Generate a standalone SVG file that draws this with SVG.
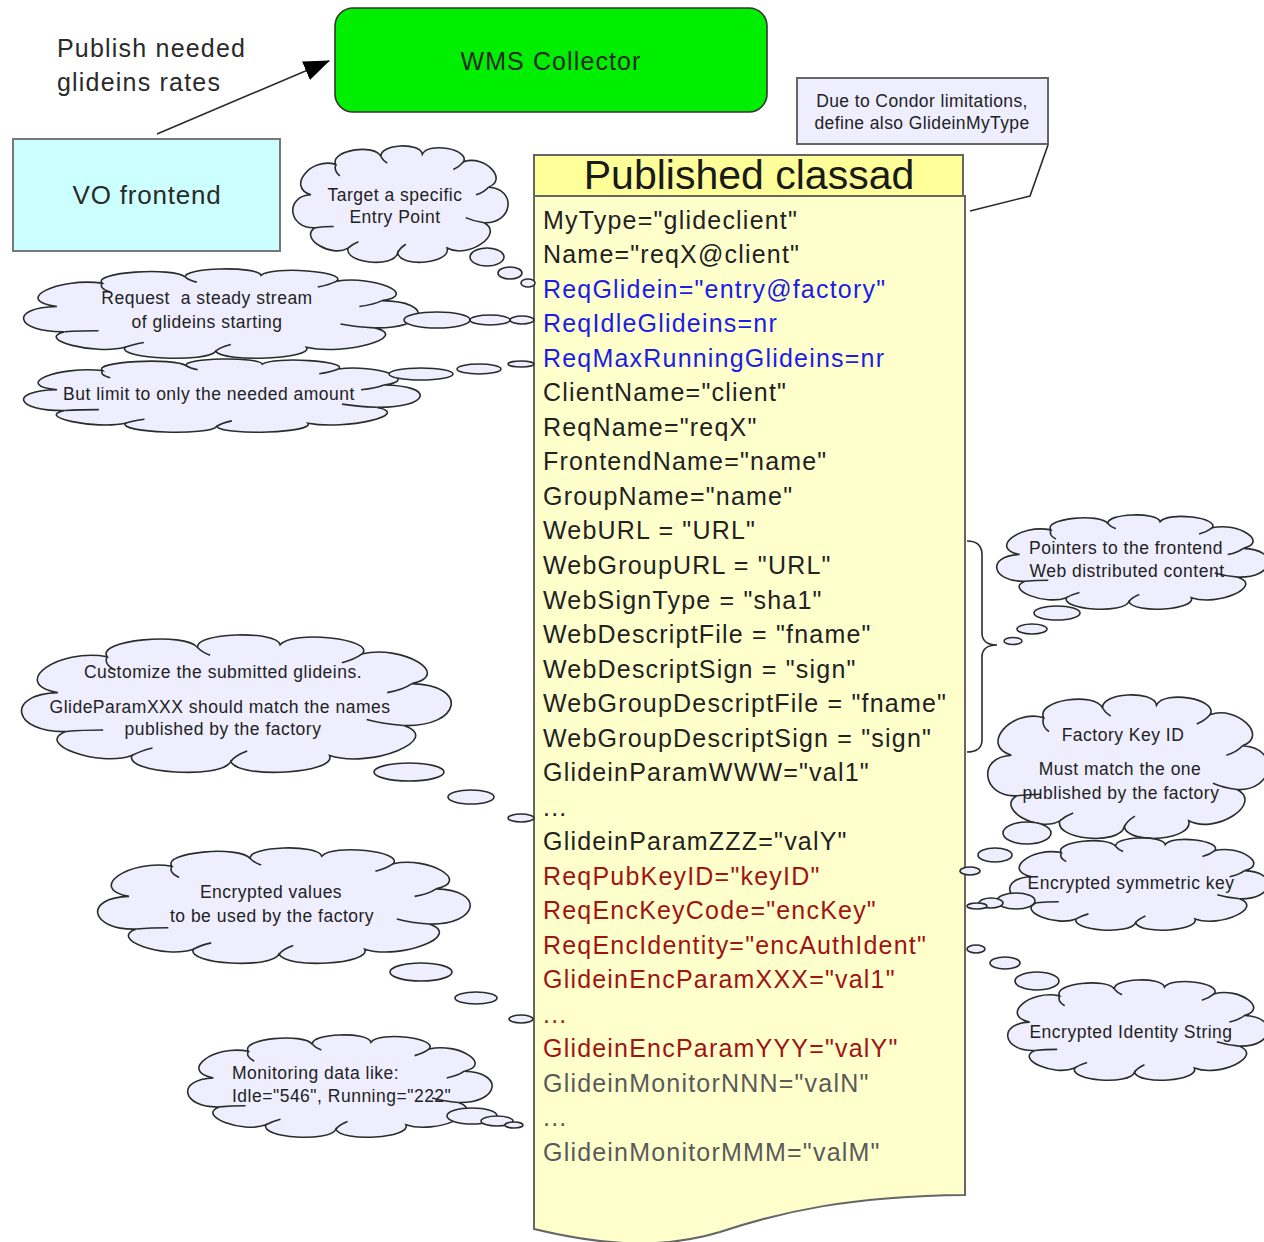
<svg xmlns="http://www.w3.org/2000/svg" xmlns:xlink="http://www.w3.org/1999/xlink" width="1264" height="1242" viewBox="0 0 1264 1242">
  <style>
    text { font-family: "Liberation Sans", Arial, Helvetica, sans-serif; }
    .big { font-size: 25px; fill: #2a2a2a; letter-spacing: 1.1px; }
    .title { font-size: 41px; fill: #1a1a1a; text-anchor: middle; }
    .attr { font-size: 25px; letter-spacing: 1.2px; }
    .k { fill: #222222; }
    .b { fill: #1c1ce6; }
    .r { fill: #a01414; }
    .g { fill: #5a5a5a; }
    .note { font-size: 17.5px; fill: #222; letter-spacing: 0.4px; text-anchor: middle; }
    .ct { font-size: 17.5px; fill: #222; letter-spacing: 0.5px; text-anchor: middle; }
    .ctl { font-size: 17.5px; fill: #222; letter-spacing: 0.5px; }
    .cloud-body { fill: #eeeeff; stroke: #2b2b2b; stroke-width: 1.6; vector-effect: non-scaling-stroke; }
    .cloud-tick { fill: none; stroke: #2b2b2b; stroke-width: 1.6; vector-effect: non-scaling-stroke; }
    .bubble { fill: #eeeeff; stroke: #2b2b2b; stroke-width: 1.6; }
    .line { fill: none; stroke: #2b2b2b; stroke-width: 1.6; }
  </style>
  <defs>
    <marker id="arrowhead" markerUnits="userSpaceOnUse" markerWidth="26" markerHeight="20" viewBox="0 0 26 20" refX="25" refY="10" orient="auto">
      <path d="M0,0 L26,10 L0,20 Z" fill="#000"/>
    </marker>
    <!-- generic thought cloud, extents x -0.7..103.5, y 3.5..95 -->
    <g id="cloud">
      <path class="cloud-body" d="M8,42 C-4,36 8,12 20,18 C17,7 39,1 42,12 C41,2 61,0 62,10 C65,0 85,6 82,16 C92,10 104,30 94,36 C108,37 106,65 92,64 C102,73 84,93 74,84 C76,96 52,100 50,88 C48,100 24,96 26,84 C18,92 2,76 10,68 C-3,69 -5,43 8,42 Z"/>
      <path class="cloud-tick" d="M20,18 Q19,23 22,27 M42,12 Q43,15 45,17 M82,16 Q80,20 77,22 M94,36 Q92,40 88,42 M92,64 Q87,63 83,60 M50,88 Q51,84 54,81 M26,84 Q28,81 31,79 M10,68 Q14,67 19,67"/>
    </g>
  </defs>

  <rect width="1264" height="1242" fill="#ffffff"/>

  <!-- WMS Collector -->
  <g id="wms-collector">
    <rect x="335" y="8" width="432" height="104" rx="18" ry="18" fill="#00ee00" stroke="#333" stroke-width="1.6"/>
    <text class="big" x="551" y="70" text-anchor="middle">WMS Collector</text>
  </g>

  <!-- VO frontend -->
  <g id="vo-frontend">
    <rect x="13" y="139" width="267" height="112" fill="#ccffff" stroke="#777" stroke-width="2"/>
    <text class="big" x="147" y="204" text-anchor="middle" style="font-size:26px;letter-spacing:0.8px">VO frontend</text>
  </g>

  <!-- label of the publish arrow -->
  <g id="publish-label">
    <text class="big" x="57" y="57" style="letter-spacing:1.2px">Publish needed</text>
    <text class="big" x="57" y="91" style="letter-spacing:1.2px">glideins rates</text>
  </g>

  <!-- Condor note -->
  <g id="condor-note">
    <rect x="797" y="78" width="251" height="66" fill="#eeeeff" stroke="#666" stroke-width="2"/>
    <text class="note" x="922" y="107">Due to Condor limitations,</text>
    <text class="note" x="922" y="129">define also GlideinMyType</text>
  </g>

  <!-- Published classad -->
  <g id="published-classad">
    <path d="M534,196 L965,196 L965,1195 C850,1196 780,1212 720,1232 C660,1250 600,1245 534,1229 Z" fill="#ffffcc" stroke="#666" stroke-width="2"/>
    <rect x="534" y="155" width="429" height="41" fill="#ffff99" stroke="#666" stroke-width="2"/>
    <text class="title" x="749" y="189">Published classad</text>
    <g class="attr">
      <text class="k" x="543" y="229">MyType="glideclient"</text>
      <text class="k" x="543" y="263">Name="reqX@client"</text>
      <text class="b" x="543" y="298">ReqGlidein="entry@factory"</text>
      <text class="b" x="543" y="332">ReqIdleGlideins=nr</text>
      <text class="b" x="543" y="367">ReqMaxRunningGlideins=nr</text>
      <text class="k" x="543" y="401">ClientName="client"</text>
      <text class="k" x="543" y="436">ReqName="reqX"</text>
      <text class="k" x="543" y="470">FrontendName="name"</text>
      <text class="k" x="543" y="505">GroupName="name"</text>
      <text class="k" x="543" y="539">WebURL = "URL"</text>
      <text class="k" x="543" y="574">WebGroupURL = "URL"</text>
      <text class="k" x="543" y="609">WebSignType = "sha1"</text>
      <text class="k" x="543" y="643">WebDescriptFile = "fname"</text>
      <text class="k" x="543" y="678">WebDescriptSign = "sign"</text>
      <text class="k" x="543" y="712">WebGroupDescriptFile = "fname"</text>
      <text class="k" x="543" y="747">WebGroupDescriptSign = "sign"</text>
      <text class="k" x="543" y="781">GlideinParamWWW="val1"</text>
      <text class="k" x="543" y="816">...</text>
      <text class="k" x="543" y="850">GlideinParamZZZ="valY"</text>
      <text class="r" x="543" y="885">ReqPubKeyID="keyID"</text>
      <text class="r" x="543" y="919">ReqEncKeyCode="encKey"</text>
      <text class="r" x="543" y="954">ReqEncIdentity="encAuthIdent"</text>
      <text class="r" x="543" y="988">GlideinEncParamXXX="val1"</text>
      <text class="r" x="543" y="1023">...</text>
      <text class="r" x="543" y="1057">GlideinEncParamYYY="valY"</text>
      <text class="g" x="543" y="1092">GlideinMonitorNNN="valN"</text>
      <text class="g" x="543" y="1126">...</text>
      <text class="g" x="543" y="1161">GlideinMonitorMMM="valM"</text>
    </g>
  </g>

  <!-- connectors -->
  <g id="connectors">
    <line class="line" x1="157" y1="134" x2="329" y2="61" marker-end="url(#arrowhead)"/>
    <polyline class="line" points="1048,145 1030,196 970,211"/>
    <path class="line" d="M967,541 C976,541 982,545 982,555 L982,633 C982,641 988,645 997,645 C988,645 982,649 982,657 L982,740 C982,748 976,752 967,752"/>
  </g>

  <!-- thought clouds, left side -->
  <g id="cloud-target">
    <use xlink:href="#cloud" transform="translate(293,146) scale(2.063,1.268) translate(0.7,-3.5)"/>
    <ellipse class="bubble" cx="487" cy="257" rx="17" ry="9"/>
    <ellipse class="bubble" cx="510" cy="273" rx="12" ry="6"/>
    <ellipse class="bubble" cx="528" cy="283" rx="7" ry="4"/>
    <text class="ct" x="395" y="201">Target a specific</text>
    <text class="ct" x="395" y="223">Entry Point</text>
  </g>

  <g id="cloud-request">
    <use xlink:href="#cloud" transform="translate(24,269) scale(3.781,0.973) translate(0.7,-3.5)"/>
    <ellipse class="bubble" cx="437" cy="320" rx="33" ry="8"/>
    <ellipse class="bubble" cx="490" cy="320" rx="20" ry="5"/>
    <ellipse class="bubble" cx="522" cy="320" rx="12" ry="4"/>
    <text class="ct" x="207" y="304">Request &#160;a steady stream</text>
    <text class="ct" x="207" y="328">of glideins starting</text>
  </g>

  <g id="cloud-limit">
    <use xlink:href="#cloud" transform="translate(24,359) scale(3.800,0.798) translate(0.7,-3.5)"/>
    <ellipse class="bubble" cx="421" cy="374" rx="32" ry="6"/>
    <ellipse class="bubble" cx="479" cy="369" rx="22" ry="5"/>
    <ellipse class="bubble" cx="521" cy="364" rx="13" ry="3"/>
    <text class="ct" x="209" y="400">But limit to only the needed amount</text>
  </g>

  <g id="cloud-customize">
    <use xlink:href="#cloud" transform="translate(22,635) scale(4.117,1.497) translate(0.7,-3.5)"/>
    <ellipse class="bubble" cx="409" cy="772" rx="35" ry="9"/>
    <ellipse class="bubble" cx="471" cy="797" rx="23" ry="7"/>
    <ellipse class="bubble" cx="521" cy="818" rx="13" ry="4"/>
    <text class="ct" x="223" y="678">Customize the submitted glideins.</text>
    <text class="ct" x="220" y="713">GlideParamXXX should match the names</text>
    <text class="ct" x="223" y="735">published by the factory</text>
  </g>

  <g id="cloud-encrypted-values">
    <use xlink:href="#cloud" transform="translate(98,848) scale(3.570,1.257) translate(0.7,-3.5)"/>
    <ellipse class="bubble" cx="421" cy="972" rx="31" ry="9"/>
    <ellipse class="bubble" cx="476" cy="998" rx="21" ry="6"/>
    <ellipse class="bubble" cx="521" cy="1019" rx="12" ry="4"/>
    <text class="ct" x="271" y="898">Encrypted values</text>
    <text class="ct" x="272" y="922">to be used by the factory</text>
  </g>

  <g id="cloud-monitoring">
    <use xlink:href="#cloud" transform="translate(188,1035) scale(2.917,1.115) translate(0.7,-3.5)"/>
    <ellipse class="bubble" cx="472" cy="1116" rx="25" ry="8"/>
    <ellipse class="bubble" cx="497" cy="1121" rx="16" ry="5"/>
    <ellipse class="bubble" cx="514" cy="1125" rx="9" ry="3"/>
    <text class="ctl" x="232" y="1079">Monitoring data like:</text>
    <text class="ctl" x="232" y="1102">Idle="546", Running="222"</text>
  </g>

  <!-- thought clouds, right side -->
  <g id="cloud-pointers">
    <use xlink:href="#cloud" transform="translate(997,515) scale(2.601,1.027) translate(0.7,-3.5)"/>
    <ellipse class="bubble" cx="1057" cy="613" rx="23" ry="7"/>
    <ellipse class="bubble" cx="1032" cy="629" rx="15" ry="5"/>
    <ellipse class="bubble" cx="1013" cy="641" rx="9" ry="3.5"/>
    <text class="ct" x="1126" y="554">Pointers to the frontend</text>
    <text class="ct" x="1127" y="577">Web distributed content</text>
  </g>

  <g id="cloud-factory-key">
    <use xlink:href="#cloud" transform="translate(988,695) scale(2.687,1.563) translate(0.7,-3.5)"/>
    <ellipse class="bubble" cx="1027" cy="833" rx="24" ry="11"/>
    <ellipse class="bubble" cx="995" cy="855" rx="17" ry="7"/>
    <ellipse class="bubble" cx="970" cy="871" rx="10" ry="4"/>
    <text class="ct" x="1123" y="741">Factory Key ID</text>
    <text class="ct" x="1120" y="775">Must match the one</text>
    <text class="ct" x="1121" y="799">published by the factory</text>
  </g>

  <g id="cloud-symmetric-key">
    <use xlink:href="#cloud" transform="translate(1010,838) scale(2.476,1.005) translate(0.7,-3.5)"/>
    <ellipse class="bubble" cx="1016" cy="901" rx="19" ry="8"/>
    <ellipse class="bubble" cx="991" cy="903" rx="12" ry="5"/>
    <ellipse class="bubble" cx="977" cy="906" rx="10" ry="3"/>
    <text class="ct" x="1131" y="889">Encrypted symmetric key</text>
  </g>

  <g id="cloud-identity">
    <use xlink:href="#cloud" transform="translate(1008,980) scale(2.495,1.093) translate(0.7,-3.5)"/>
    <ellipse class="bubble" cx="1037" cy="981" rx="22" ry="9"/>
    <ellipse class="bubble" cx="1005" cy="963" rx="15" ry="6"/>
    <ellipse class="bubble" cx="976" cy="949" rx="9" ry="4"/>
    <text class="ct" x="1131" y="1038">Encrypted Identity String</text>
  </g>
</svg>
